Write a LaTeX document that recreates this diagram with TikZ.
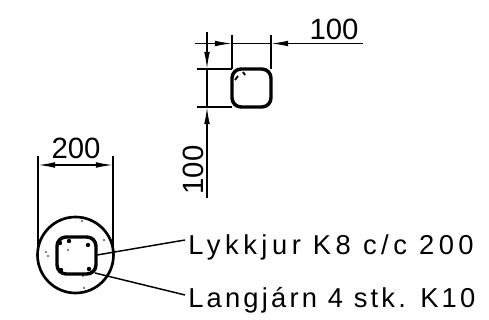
\documentclass[tikz,border=0pt]{standalone}
\usepackage{fontspec}
\setmainfont{Liberation Sans}
\newfontfamily\stirrupfont[LetterSpace=16.5]{Liberation Sans}
\newfontfamily\barsfont[LetterSpace=11.7]{Liberation Sans}
\usetikzlibrary{arrows.meta}
\tikzset{>={Latex[width=1.5mm,length=4.5mm]}}
\begin{document}
\begin{tikzpicture}[
    x = 0.75pt, y = -0.75pt,
    dimline/.style = {draw, line width=0.8pt},
    dimtip/.style = {draw, line width=1pt, ->},
    barline/.style = {draw, line width=2.6pt, rounded corners=2.4mm},
    corner/.style = {inner sep=0mm, minimum size=0mm},
    leader/.style = {draw, line width=1.1pt},
    label/.style = {inner sep=0mm, anchor=base west},
    dimtext/.style = {inner sep=0mm, font=\fontsize{22}{26}\selectfont}
  ]
  \useasboundingbox (0,0) rectangle (489,320);

  % upper section
  \node[corner] (TL) at (232,69) {};
  \node[corner] (BR) at (271,107) {};
  \draw[barline] (TL.center) rectangle (BR.center);
  \draw[line width=1.4pt] (235,80) -- (238,76) (243,72) -- (245,75);

  \coordinate (UL) at (232,35);
  \coordinate (UR) at (271,35);
  \coordinate (LT) at (197,69);
  \coordinate (LB) at (197,107);
  \coordinate (DW) at (195,43.5);
  \coordinate (DE) at (363,43.5);
  \coordinate (DN) at (207,32);
  \coordinate (DS) at (207,198);
  \draw[dimline] (UL) -- (TL.center);
  \draw[dimline] (UR) -- (BR.center |- TL.center);
  \draw[dimline] (LT) -- (TL.center);
  \draw[dimline] (LB) -- (TL.center |- BR.center);
  \draw[dimline] (UL |- DW) -- (UR |- DW);
  \draw[dimtip] (DW) -- (UL |- DW);
  \draw[dimtip] (DE) -- (UR |- DE);
  \draw[dimtip] (DN) -- (DN |- LT);
  \draw[dimtip] (DS) -- (DS |- LB);
  \draw[dimline] (DN |- LT) -- (DN |- LB);
  \node[dimtext, anchor=base] (TOPDIM) at (334,40) {100};
  \node[dimtext, anchor=base, rotate=90] (SIDEDIM) at (203,170) {100};

  % lower section
  \node[draw, circle, line width=2pt, minimum size=57pt, inner sep=0mm] (COL) at (75.5,255) {};
  \node[corner] (ITL) at (57,237) {};
  \node[corner] (IBR) at (96,274) {};
  \draw[barline] (ITL.center) rectangle (IBR.center);
  \foreach \x/\y in {60/243, 61/270, 89/269, 69/241, 88/245}
  \fill (\x,\y) circle (2.2);
  \foreach \x/\y in {82/221, 46/252, 48/256, 83/276, 84/288, 104/240, 68/250}
  \fill (\x,\y) circle (0.8);

  \coordinate (WL) at (38,156);
  \coordinate (WR) at (113,156);
  \coordinate (WLE) at (38,250);
  \coordinate (WRE) at (113,250);
  \coordinate (DIML) at (38,165);
  \coordinate (DIMR) at (113,165);
  \draw[dimline] (WL) -- (WLE);
  \draw[dimline] (WR) -- (WRE);
  \draw[dimtip] (75,165) -- (DIML);
  \draw[dimtip] (75,165) -- (DIMR);
  \node[dimtext, anchor=base] (WIDTHDIM) at (76,159) {200};

  % labels
  \node[label, font=\fontsize{20.5}{24}\stirrupfont] (STIRRUP) at (188,255) {Lykkjur K8 c/c 200};
  \node[label, font=\fontsize{20.5}{24}\barsfont] (BARS) at (188,307) {Langjárn 4 stk. K10};
  \coordinate (SP) at (97,255);
  \coordinate (BP) at (95,273);
  \draw[leader] (SP) -- (185,240);
  \draw[leader] (BP) -- (185,295);
\end{tikzpicture}
\end{document}
